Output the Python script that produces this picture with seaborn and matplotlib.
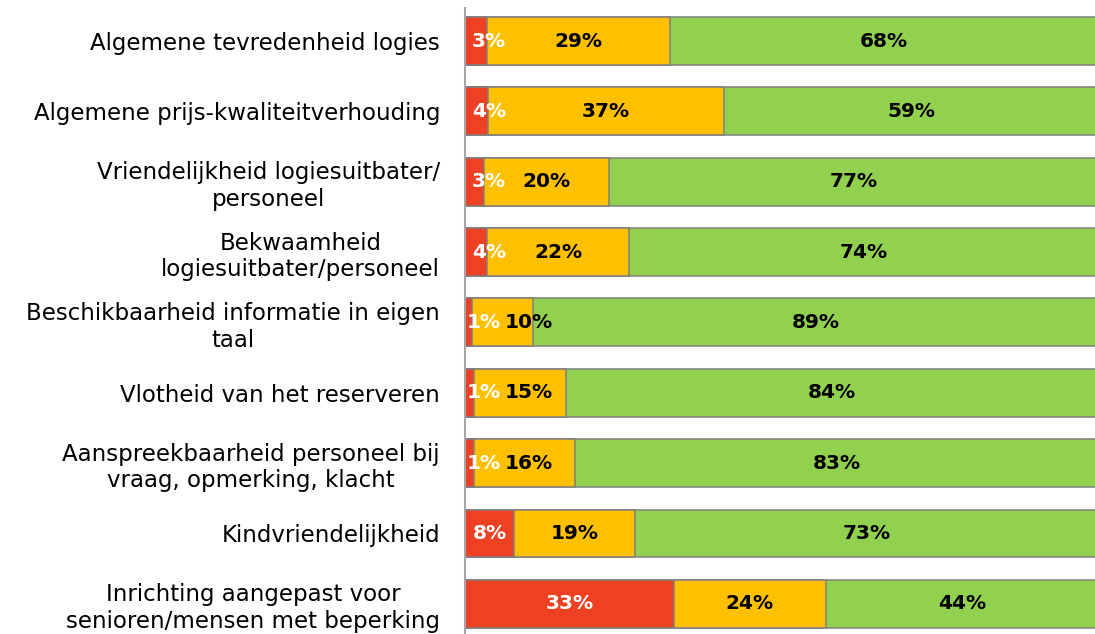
import numpy as np
import pandas as pd
import seaborn as sns
import matplotlib.pyplot as plt

categories = [
    "Algemene tevredenheid logies",
    "Algemene prijs-kwaliteitverhouding",
    "Vriendelijkheid logiesuitbater/\npersoneel",
    "Bekwaamheid\nlogiesuitbater/personeel",
    "Beschikbaarheid informatie in eigen\ntaal",
    "Vlotheid van het reserveren",
    "Aanspreekbaarheid personeel bij\nvraag, opmerking, klacht",
    "Kindvriendelijkheid",
    "Inrichting aangepast voor\nsenioren/mensen met beperking",
]
# segment widths
red = [3.5, 3.6, 3.0, 3.5, 1.1, 1.4, 1.5, 7.7, 33.0]
orange = [28.9, 37.3, 19.7, 22.4, 9.7, 14.6, 15.9, 19.2, 24.0]
green = [67.6, 59.1, 77.3, 74.1, 89.3, 84.0, 82.6, 73.1, 43.0]
# printed labels
red_lbl = [3, 4, 3, 4, 1, 1, 1, 8, 33]
orange_lbl = [29, 37, 20, 22, 10, 15, 16, 19, 24]
green_lbl = [68, 59, 77, 74, 89, 84, 83, 73, 44]

c_red, c_orange, c_green = "#EE4023", "#FFC000", "#92D050"
edge = "#808080"

df = pd.DataFrame({"cat": categories, "red": red, "orange": orange, "green": green})
df["ro"] = df["red"] + df["orange"]
df["total"] = df["ro"] + df["green"]

sns.set_style("white")
fig = plt.figure(figsize=(10.95, 6.34), dpi=100)
ax = fig.add_axes([465 / 1095, 0, 633 / 1095, 626 / 634])

kw = dict(y="cat", orient="h", order=categories, width=0.68,
          edgecolor=edge, linewidth=1.1, ax=ax)
sns.barplot(data=df, x="total", color=c_green, saturation=1, **kw)
sns.barplot(data=df, x="ro", color=c_orange, saturation=1, **kw)
sns.barplot(data=df, x="red", color=c_red, saturation=1, **kw)

lab = dict(va="center", fontsize=14.5, fontweight="bold")
for i in range(len(categories)):
    r = df["red"][i]
    if r < 5:
        # narrow segment: label starts near the axis, like Excel does
        ax.text(0.3 if r < 2 else 1.1, i, f"{red_lbl[i]}%", ha="left",
                color="white", **lab)
        ox = max(r + df["orange"][i] / 2, 10.0)
    else:
        ax.text(r / 2, i, f"{red_lbl[i]}%", ha="center", color="white", **lab)
        ox = r + df["orange"][i] / 2
    ax.text(ox, i, f"{orange_lbl[i]}%", ha="center", color="black", **lab)
    ax.text(df["ro"][i] + df["green"][i] / 2, i, f"{green_lbl[i]}%",
            ha="center", color="black", **lab)

ax.set_xlim(0, 100)
ax.set_ylim(8.43, -0.47)
ax.set_xlabel("")
ax.set_ylabel("")
ax.xaxis.set_visible(False)
ax.tick_params(axis="y", length=0, pad=18, labelsize=16.5, labelcolor="black")
for t in ax.get_yticklabels():
    t.set_multialignment("center")
for s in ["top", "right", "bottom"]:
    ax.spines[s].set_visible(False)
ax.spines["left"].set_color("#A6A6A6")
ax.spines["left"].set_linewidth(1.5)

fig.savefig("out.png", dpi=100)
